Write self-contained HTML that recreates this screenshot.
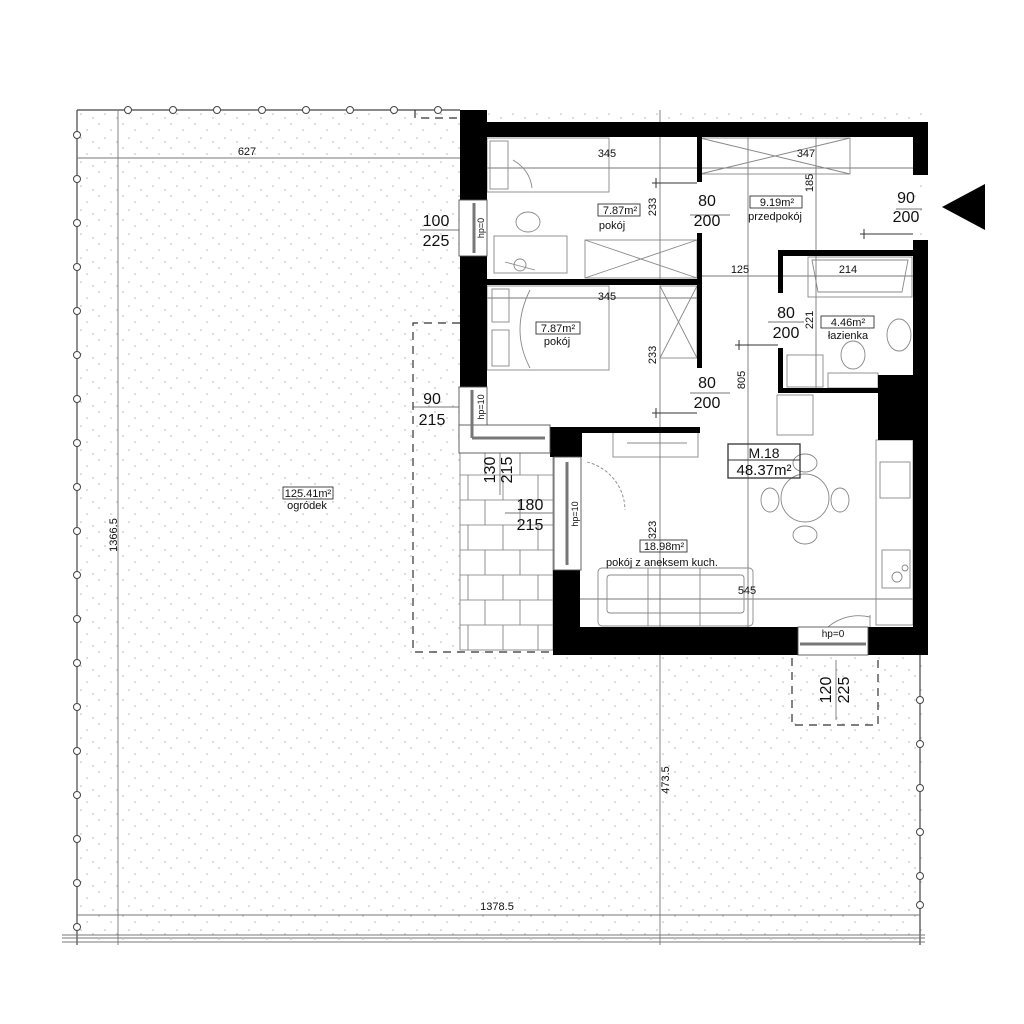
<!DOCTYPE html>
<html><head><meta charset="utf-8"><style>
html,body{margin:0;padding:0;background:#fff;}
svg{display:block;}
text{font-family:"Liberation Sans",sans-serif;fill:#111;}
</style></head><body>
<svg width="1024" height="1024" viewBox="0 0 1024 1024" xmlns="http://www.w3.org/2000/svg">
<defs>
<pattern id="dots" width="24" height="24" patternUnits="userSpaceOnUse">
<circle cx="3" cy="4" r="0.9" fill="#c4c4c4"/><circle cx="15" cy="10" r="0.9" fill="#c4c4c4"/><circle cx="9" cy="18" r="0.9" fill="#c4c4c4"/><circle cx="21" cy="22" r="0.9" fill="#c4c4c4"/>
</pattern>
</defs>
<rect x="77" y="110" width="845" height="830" fill="url(#dots)"/>
<rect x="486" y="135" width="428" height="493" fill="#fff"/>
<rect x="460" y="440" width="94" height="212" fill="#fff"/>
<g stroke="#444" stroke-width="1.2" fill="none">
<line x1="77" y1="110" x2="460" y2="110"/>
<line x1="77" y1="110" x2="77" y2="945"/>
<line x1="920" y1="655" x2="920" y2="945"/>
</g>
<g stroke="#444" stroke-width="1" fill="#fff">
<circle cx="128" cy="110" r="3.5"/><circle cx="173" cy="110" r="3.5"/><circle cx="217" cy="110" r="3.5"/><circle cx="262" cy="110" r="3.5"/><circle cx="306" cy="110" r="3.5"/><circle cx="350" cy="110" r="3.5"/><circle cx="394" cy="110" r="3.5"/><circle cx="438" cy="110" r="3.5"/>
<circle cx="77" cy="135" r="3.5"/><circle cx="77" cy="179" r="3.5"/><circle cx="77" cy="223" r="3.5"/><circle cx="77" cy="267" r="3.5"/><circle cx="77" cy="311" r="3.5"/><circle cx="77" cy="355" r="3.5"/><circle cx="77" cy="399" r="3.5"/><circle cx="77" cy="443" r="3.5"/><circle cx="77" cy="487" r="3.5"/><circle cx="77" cy="531" r="3.5"/><circle cx="77" cy="575" r="3.5"/><circle cx="77" cy="619" r="3.5"/><circle cx="77" cy="663" r="3.5"/><circle cx="77" cy="707" r="3.5"/><circle cx="77" cy="751" r="3.5"/><circle cx="77" cy="795" r="3.5"/><circle cx="77" cy="839" r="3.5"/><circle cx="77" cy="883" r="3.5"/><circle cx="77" cy="927" r="3.5"/>
<circle cx="920" cy="700" r="3.5"/><circle cx="920" cy="744" r="3.5"/><circle cx="920" cy="788" r="3.5"/><circle cx="920" cy="832" r="3.5"/><circle cx="920" cy="876" r="3.5"/><circle cx="920" cy="905" r="3.5"/>
</g>
<g stroke="#777" stroke-width="1">
<line x1="62" y1="935" x2="925" y2="935"/><line x1="62" y1="938" x2="925" y2="938"/><line x1="62" y1="942" x2="925" y2="942"/>
</g>
<g stroke="#777" stroke-width="0.9" fill="none">
<line x1="118" y1="110" x2="118" y2="945"/>
<line x1="77" y1="158" x2="460" y2="158"/>
<line x1="77" y1="915" x2="920" y2="915"/>
<line x1="660" y1="110" x2="660" y2="945"/>
<line x1="748" y1="135" x2="748" y2="628"/>
<line x1="816" y1="135" x2="816" y2="390"/>
<line x1="486" y1="168" x2="913" y2="168"/>
<line x1="700" y1="276" x2="913" y2="276"/>
<line x1="486" y1="298" x2="700" y2="298"/>
<line x1="580" y1="599" x2="913" y2="599"/>
<line x1="420" y1="230" x2="460" y2="230"/>
<line x1="413" y1="407" x2="472" y2="407"/>
<line x1="500" y1="440" x2="500" y2="495"/>
<line x1="505" y1="513" x2="553" y2="513"/>
<line x1="690" y1="215" x2="730" y2="215"/>
<line x1="690" y1="393" x2="730" y2="393"/>
<line x1="768" y1="322" x2="804" y2="322"/>
<line x1="896" y1="209" x2="922" y2="209"/>
<line x1="836" y1="660" x2="836" y2="720"/>
</g>
<g stroke="#777" stroke-width="0.8" fill="none">
<rect x="460" y="450" width="93" height="200"/>
<line x1="460" y1="475" x2="553" y2="475"/><line x1="460" y1="500" x2="553" y2="500"/><line x1="460" y1="525" x2="553" y2="525"/><line x1="460" y1="550" x2="553" y2="550"/><line x1="460" y1="575" x2="553" y2="575"/><line x1="460" y1="600" x2="553" y2="600"/><line x1="460" y1="625" x2="553" y2="625"/>
<line x1="485" y1="450" x2="485" y2="475"/><line x1="520" y1="450" x2="520" y2="475"/>
<line x1="468" y1="475" x2="468" y2="500"/><line x1="503" y1="475" x2="503" y2="500"/><line x1="538" y1="475" x2="538" y2="500"/>
<line x1="485" y1="500" x2="485" y2="525"/><line x1="520" y1="500" x2="520" y2="525"/>
<line x1="468" y1="525" x2="468" y2="550"/><line x1="503" y1="525" x2="503" y2="550"/><line x1="538" y1="525" x2="538" y2="550"/>
<line x1="485" y1="550" x2="485" y2="575"/><line x1="520" y1="550" x2="520" y2="575"/>
<line x1="468" y1="575" x2="468" y2="600"/><line x1="503" y1="575" x2="503" y2="600"/><line x1="538" y1="575" x2="538" y2="600"/>
<line x1="485" y1="600" x2="485" y2="625"/><line x1="520" y1="600" x2="520" y2="625"/>
<line x1="468" y1="625" x2="468" y2="650"/><line x1="503" y1="625" x2="503" y2="650"/><line x1="538" y1="625" x2="538" y2="650"/>
</g>
<g stroke="#333" stroke-width="1.2" fill="none" stroke-dasharray="8,6">
<polyline points="460,323 413,323 413,652 553,652"/>
<polyline points="792,658 792,725 878,725 878,658"/>
<polyline points="415,110 415,118 460,118"/>
</g>
<g stroke="#888" stroke-width="0.9" fill="none">
<rect x="487" y="138" width="122" height="54"/><rect x="490" y="141" width="18" height="48"/>
<path d="M513,160 Q530,170 532,188"/>
<rect x="494" y="236" width="73" height="37"/><ellipse cx="528" cy="222" rx="12" ry="10"/><line x1="505" y1="262" x2="535" y2="270"/><circle cx="520" cy="265" r="6"/>
<rect x="585" y="240" width="112" height="38"/><line x1="585" y1="240" x2="697" y2="278"/><line x1="585" y1="278" x2="697" y2="240"/>
<rect x="700" y="138" width="150" height="36"/><line x1="700" y1="138" x2="850" y2="174"/><line x1="700" y1="174" x2="850" y2="138"/>
<rect x="487" y="286" width="122" height="84"/><rect x="492" y="289" width="17" height="33"/><rect x="492" y="330" width="17" height="36"/>
<path d="M530,290 Q510,330 530,368"/>
<rect x="660" y="286" width="37" height="72"/><line x1="660" y1="286" x2="697" y2="358"/><line x1="660" y1="358" x2="697" y2="286"/>
<rect x="808" y="257" width="104" height="40"/><path d="M812,260 L908,260 L902,292 L818,292 Z"/>
<ellipse cx="899" cy="335" rx="12" ry="16"/><ellipse cx="853" cy="355" rx="12" ry="14"/><rect x="828" y="373" width="50" height="15"/>
<rect x="787" y="355" width="36" height="32"/>
<rect x="777" y="395" width="36" height="40"/>
<rect x="613" y="432" width="85" height="25"/><line x1="627" y1="443" x2="687" y2="443"/>
<rect x="876" y="440" width="37" height="185"/>
<rect x="880" y="462" width="30" height="36"/><rect x="882" y="550" width="28" height="38"/>
<circle cx="897" cy="577" r="5"/><circle cx="905" cy="568" r="3"/>
<circle cx="805" cy="498" r="24"/><ellipse cx="805" cy="463" rx="12" ry="9"/><ellipse cx="805" cy="535" rx="12" ry="9"/><ellipse cx="770" cy="500" rx="9" ry="12"/><ellipse cx="840" cy="500" rx="9" ry="12"/>
<rect x="598" y="568" width="155" height="58" rx="4"/><line x1="648" y1="568" x2="648" y2="626"/><line x1="700" y1="568" x2="700" y2="626"/><rect x="607" y="575" width="137" height="38" rx="3"/>
<path d="M587,462 A50,50 0 0 1 625,510" stroke-dasharray="3,2"/>
<path d="M870,617 A48,48 0 0 0 822,633" />
<line x1="870" y1="615" x2="870" y2="633"/>
</g>
<g fill="#000">
<rect x="460" y="110" width="27" height="90"/>
<rect x="460" y="122" width="468" height="15"/>
<rect x="460" y="256" width="27" height="131"/>
<rect x="697" y="137" width="5" height="45"/>
<rect x="697" y="233" width="5" height="135"/>
<rect x="487" y="279" width="215" height="6"/>
<rect x="913" y="122" width="15" height="53"/>
<rect x="913" y="240" width="15" height="415"/>
<rect x="778" y="250" width="135" height="6"/>
<rect x="778" y="250" width="5" height="43"/>
<rect x="778" y="348" width="5" height="45"/>
<rect x="778" y="388" width="100" height="5"/>
<rect x="878" y="375" width="35" height="65"/>
<rect x="550" y="427" width="150" height="6"/>
<rect x="550" y="427" width="32" height="30"/>
<rect x="553" y="570" width="27" height="85"/>
<rect x="553" y="627" width="245" height="28"/>
<rect x="868" y="627" width="60" height="28"/>
</g>
<g stroke="#555" stroke-width="0.9" fill="#fff">
<rect x="459" y="200" width="28" height="56"/>
<rect x="459" y="387" width="28" height="53"/>
<rect x="459" y="425" width="91" height="28"/>
<rect x="554" y="457" width="27" height="113"/>
<rect x="798" y="627" width="70" height="28"/>
</g>
<g stroke="#777" stroke-width="3">
<line x1="474" y1="203" x2="474" y2="253"/>
<line x1="472" y1="390" x2="472" y2="438"/>
<line x1="472" y1="438" x2="545" y2="438"/>
<line x1="567" y1="462" x2="567" y2="565"/>
<line x1="800" y1="644" x2="866" y2="644"/>
</g>
<g stroke="#333" stroke-width="1" fill="none">
<line x1="652" y1="183" x2="697" y2="183"/><line x1="656" y1="178" x2="656" y2="188"/>
<line x1="735" y1="345" x2="778" y2="345"/><line x1="739" y1="340" x2="739" y2="350"/>
<line x1="652" y1="413" x2="697" y2="413"/><line x1="656" y1="408" x2="656" y2="418"/>
<line x1="860" y1="234" x2="913" y2="234"/><line x1="864" y1="229" x2="864" y2="239"/>
</g>
<polygon points="942,207 985,184 985,230" fill="#000"/>
<g stroke="#333" stroke-width="0.9" fill="none">
<rect x="598" y="204" width="42" height="12"/>
<rect x="536" y="322" width="44" height="12"/>
<rect x="750" y="196" width="52" height="12"/>
<rect x="821" y="316" width="53" height="12"/>
<rect x="640" y="540" width="47" height="12"/>
<rect x="283" y="487" width="50" height="12"/>
<rect x="728" y="444" width="72" height="34" stroke-width="1.3"/>
<line x1="728" y1="460" x2="800" y2="460"/>
</g>
<g font-size="11" text-anchor="middle">
<text x="247" y="155">627</text>
<text x="607" y="157">345</text>
<text x="620" y="214">7.87m²</text>
<text x="612" y="229">pokój</text>
<text x="806" y="157">347</text>
<text x="777" y="206">9.19m²</text>
<text x="775" y="220">przedpokój</text>
<text x="740" y="273">125</text>
<text x="848" y="273">214</text>
<text x="607" y="300">345</text>
<text x="558" y="332">7.87m²</text>
<text x="557" y="345">pokój</text>
<text x="848" y="326">4.46m²</text>
<text x="848" y="339">łazienka</text>
<text x="664" y="550">18.98m²</text>
<text x="662" y="566">pokój z aneksem kuch.</text>
<text x="747" y="594">545</text>
<text x="308" y="497">125.41m²</text>
<text x="307" y="509">ogródek</text>
<text x="497" y="910">1378.5</text>
<text x="833" y="637" font-size="10">hp=0</text>
<text transform="translate(656,207) rotate(-90)">233</text>
<text transform="translate(656,355) rotate(-90)">233</text>
<text transform="translate(813,183) rotate(-90)">185</text>
<text transform="translate(813,320) rotate(-90)">221</text>
<text transform="translate(745,380) rotate(-90)">805</text>
<text transform="translate(656,530) rotate(-90)">323</text>
<text transform="translate(117,535) rotate(-90)">1366.5</text>
<text transform="translate(669,780) rotate(-90)">473.5</text>
<text transform="translate(484,228) rotate(-90)" font-size="9">hp=0</text>
<text transform="translate(484,407) rotate(-90)" font-size="9">hp=10</text>
<text transform="translate(578,514) rotate(-90)" font-size="9">hp=10</text>
</g>
<g font-size="16" text-anchor="middle">
<text x="436" y="226">100</text><text x="436" y="246">225</text>
<text x="432" y="404">90</text><text x="432" y="425">215</text>
<text x="530" y="510">180</text><text x="530" y="530">215</text>
<text x="707" y="206">80</text><text x="707" y="226">200</text>
<text x="906" y="203">90</text><text x="906" y="222">200</text>
<text x="786" y="318">80</text><text x="786" y="338">200</text>
<text x="707" y="388">80</text><text x="707" y="408">200</text>
<text transform="translate(495,470) rotate(-90)">130</text>
<text transform="translate(512,470) rotate(-90)">215</text>
<text transform="translate(831,690) rotate(-90)">120</text>
<text transform="translate(849,690) rotate(-90)">225</text>
<text x="764" y="458" font-size="14">M.18</text>
<text x="764" y="475" font-size="15">48.37m²</text>
</g>
</svg>
</body></html>
